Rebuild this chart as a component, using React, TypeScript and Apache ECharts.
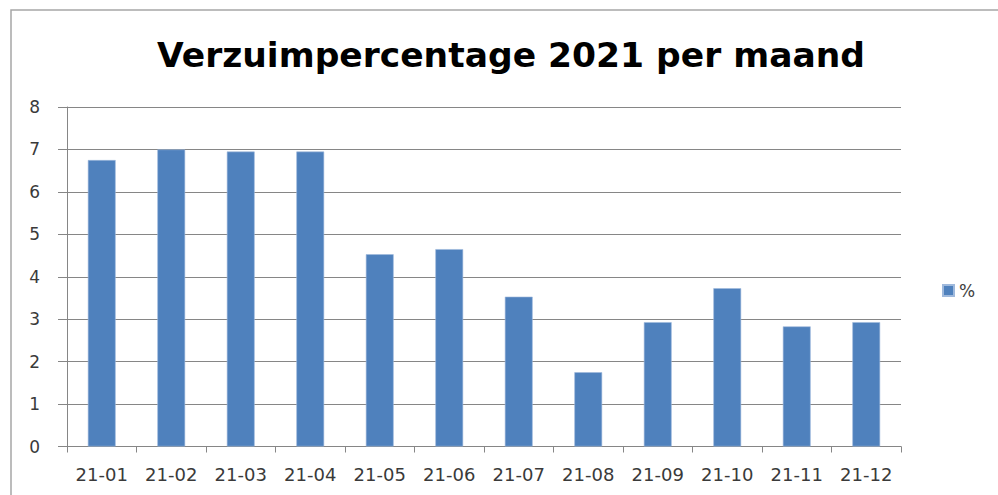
import React, { useEffect, useRef } from "react";
import * as echarts from "echarts";

const TITLE = "Verzuimpercentage 2021 per maand";
const SERIES_NAME = "%";
const MONTHS = ["21-01", "21-02", "21-03", "21-04", "21-05", "21-06", "21-07", "21-08", "21-09", "21-10", "21-11", "21-12"];
const VALUES = [6.75, 7.0, 6.95, 6.95, 4.53, 4.65, 3.53, 1.75, 2.93, 3.73, 2.83, 2.93];
const Y_MIN = 0;
const Y_MAX = 8;
const Y_INTERVAL = 1;

const FONT = "DejaVu Sans";

export default function App() {
  const ref = useRef<HTMLDivElement>(null);
  useEffect(() => {
    if (!ref.current) return;
    const chart = echarts.init(ref.current, null, { renderer: "svg" });
    chart.setOption({
      animation: false,
      backgroundColor: "#ffffff",
      textStyle: { fontFamily: FONT },
      graphic: [
        {
          type: "rect",
          shape: { x: 11, y: 10, width: 1100, height: 600 },
          style: { fill: "none", stroke: "#a6a6a6", lineWidth: 1.5 },
          silent: true,
          z: -1,
        },
      ],
      title: {
        text: TITLE,
        left: 152,
        top: 32,
        textStyle: { fontFamily: FONT, fontWeight: "bold", fontSize: 34.5, color: "#000000" },
      },
      legend: {
        data: [SERIES_NAME],
        left: 937,
        top: 277,
        orient: "vertical",
        itemWidth: 11,
        itemHeight: 11,
        itemGap: 8,
        textStyle: { fontFamily: FONT, fontSize: 17, color: "#404040" },
        icon: "rect",
      },
      grid: { left: 67, right: 97, top: 107, bottom: 48.5, containLabel: false },
      xAxis: {
        type: "category",
        data: MONTHS,
        axisLine: { show: true, lineStyle: { color: "#868686", width: 1 } },
        axisTick: { show: true, length: 6, lineStyle: { color: "#868686" } },
        axisLabel: { fontFamily: FONT, fontSize: 18, color: "#3a3a3a", margin: 19, interval: 0 },
      },
      yAxis: {
        type: "value",
        min: Y_MIN,
        max: Y_MAX,
        interval: Y_INTERVAL,
        axisLine: { show: true, lineStyle: { color: "#868686", width: 1 } },
        axisTick: { show: true, length: 9, lineStyle: { color: "#868686" } },
        splitLine: { show: true, lineStyle: { color: "#868686", width: 1 } },
        axisLabel: { fontFamily: FONT, fontSize: 17, color: "#3a3a3a", margin: 27 },
      },
      series: [
        {
          name: SERIES_NAME,
          type: "bar",
          data: VALUES,
          barWidth: "40%",
          itemStyle: { color: "#4f81bd", borderColor: "#9fb9dc", borderWidth: 0.6 },
        },
      ],
    });
    return () => chart.dispose();
  }, []);
  return (
    <div
      ref={ref}
      style={{ position: "absolute", left: 0, top: 0, width: 998, height: 495 }}
    />
  );
}
